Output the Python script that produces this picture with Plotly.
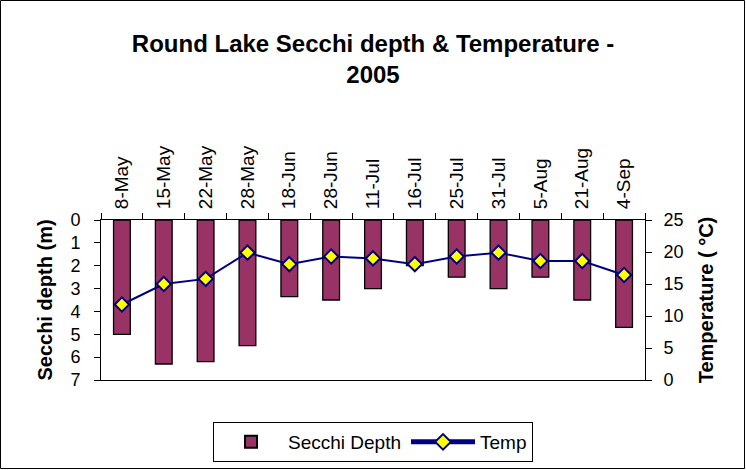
import plotly.graph_objects as go

dates = ["8-May", "15-May", "22-May", "28-May", "18-Jun", "28-Jun", "11-Jul",
         "16-Jul", "25-Jul", "31-Jul", "5-Aug", "21-Aug", "4-Sep"]
secchi_depth = [5.0, 6.3, 6.2, 5.5, 3.35, 3.5, 3.0, 2.0, 2.5, 3.0, 2.5, 3.5, 4.7]
temp = [11.8, 15.0, 15.8, 19.9, 18.1, 19.3, 19.0, 18.1, 19.3, 19.9, 18.6, 18.6, 16.4]

W, H = 746, 470
L, R, T, B = 101, 101, 220, 90
pw, ph = W - L - R, H - T - B

FAM = "Arial, Liberation Sans, sans-serif"
tickfont = dict(family=FAM, size=18, color="black")
catfont = dict(family=FAM, size=19, color="black")
titlefont = dict(family=FAM, size=20, color="black")

fig = go.Figure()
fig.add_trace(go.Bar(
    x=dates, y=secchi_depth, name="Secchi Depth",
    marker=dict(color="#993366", line=dict(color="black", width=1.3)),
    width=0.4, yaxis="y",
))
fig.add_trace(go.Scatter(
    x=dates, y=temp, name="Temp", mode="lines+markers",
    line=dict(color="#000080", width=2),
    marker=dict(symbol="diamond", size=11, color="#FFFF00",
                line=dict(color="#000080", width=2)),
    yaxis="y2",
))

fig.update_layout(
    width=W, height=H,
    margin=dict(l=L, r=R, t=T, b=B, pad=0, autoexpand=False),
    paper_bgcolor="white", plot_bgcolor="white",
    font=tickfont,
    title=dict(text="<b>Round Lake Secchi depth & Temperature -<br>2005</b>",
               x=(L + pw / 2) / W, xanchor="center", y=1 - 52 / H, yanchor="top",
               font=dict(family=FAM, size=24, color="black")),
    xaxis=dict(type="category", side="top", tickangle=-90,
               range=[-0.5, len(dates) - 0.5],
               ticks="outside", tickson="boundaries", ticklen=6,
               tickcolor="black", showline=True, linecolor="black",
               linewidth=1, mirror=True, showgrid=False,
               tickfont=catfont, automargin=False, ticklabelstandoff=6),
    yaxis=dict(range=[7, 0], dtick=1, ticks="outside", ticklen=6,
               tickcolor="black", showline=True, linecolor="black",
               linewidth=1, showgrid=False, zeroline=False,
               title=dict(text="<b>Secchi depth (m)</b>", standoff=12, font=titlefont),
               tickfont=tickfont, automargin=False, ticklabelstandoff=10),
    yaxis2=dict(range=[0, 25], dtick=5, overlaying="y", side="right",
                ticks="outside", ticklen=6, tickcolor="black",
                showline=True, linecolor="black", linewidth=1,
                showgrid=False, zeroline=False,
                title=dict(text="<b>Temperature ( °C)</b>", standoff=16, font=titlefont),
                tickfont=tickfont, automargin=False, ticklabelstandoff=8),
    legend=dict(orientation="h", x=0.5, xanchor="center",
                y=-42 / ph, yanchor="top",
                bordercolor="black", borderwidth=1, bgcolor="white",
                font=dict(family=FAM, size=19, color="black"),
                itemsizing="constant", itemwidth=64),
    showlegend=True,
)

fig.add_shape(type="rect", xref="paper", yref="paper",
              x0=-(L - 0.5) / pw, x1=1 + (R - 1.5) / pw,
              y0=-(B - 1.5) / ph, y1=1 + (T - 0.5) / ph,
              line=dict(color="black", width=1), layer="below")

fig.write_html("out.html", config={"displayModeBar": False},
               post_script="document.body.style.margin='0';document.body.style.overflow='hidden';")
